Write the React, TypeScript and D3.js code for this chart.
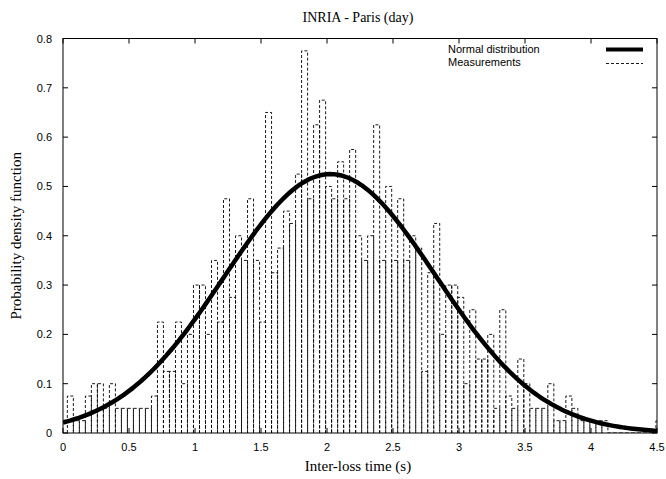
import React from "react";
import * as d3 from "d3";

const W = 666;
const H = 479;
const PL = 63, PR = 657, PT = 38.5, PB = 433;

const xTicks = [0, 0.5, 1, 1.5, 2, 2.5, 3, 3.5, 4, 4.5];
const xTickLabels = ["0", "0.5", "1", "1.5", "2", "2.5", "3", "3.5", "4", "4.5"];
const yTicks = [0, 0.1, 0.2, 0.3, 0.4, 0.5, 0.6, 0.7, 0.8];
const yTickLabels = ["0", "0.1", "0.2", "0.3", "0.4", "0.5", "0.6", "0.7", "0.8"];

// histogram bins (left edge of first bin, bin width) and measured densities
const binStart = 0.033;
const binWidth = 0.0455;
const density = [
  0.075, 0.025, 0.025, 0.075, 0.1, 0.1, 0.05, 0.1, 0.05, 0.05,
  0.05, 0.05, 0.05, 0.05, 0.075, 0.225, 0.125, 0.125, 0.225, 0.1,
  0.2, 0.3, 0.3, 0.2, 0.35, 0.225, 0.475, 0.275, 0.4, 0.35,
  0.475, 0.35, 0.225, 0.65, 0.325, 0.375, 0.45, 0.425, 0.525, 0.775,
  0.475, 0.625, 0.675, 0.5, 0.475, 0.55, 0.475, 0.575, 0.4, 0.35,
  0.4, 0.625, 0.35, 0.5, 0.35, 0.475, 0.35, 0.4, 0.375, 0.125,
  0.325, 0.425, 0.2, 0.3, 0.3, 0.275, 0.1, 0.25, 0.15, 0.15,
  0.2, 0.05, 0.25, 0.075, 0.05, 0.15, 0.1, 0.05, 0.05, 0.05,
  0.1, 0.025, 0.025, 0.075, 0.05, 0.025, 0.025, 0.025, 0.025, 0.025,
  0, 0, 0, 0, 0, 0, 0, 0, 0.025,
];

// fitted normal distribution
const normalMean = 2.025;
const normalSd = 0.8;
const normalPeak = 0.525;

const title = "INRIA - Paris (day)";
const xLabel = "Inter-loss time (s)";
const yLabel = "Probability density function";
const legendNames = ["Normal distribution", "Measurements"];

export default function App() {
  const x = d3.scaleLinear().domain([0, 4.5]).range([PL, PR]);
  const y = d3.scaleLinear().domain([0, 0.8]).range([PB, PT]);

  const curveXs = d3.range(0, 4.5001, 0.02);
  const curveLine = d3
    .line<number>()
    .x((d) => x(d))
    .y((d) => y(normalPeak * Math.exp(-((d - normalMean) ** 2) / (2 * normalSd * normalSd))))
    .curve(d3.curveLinear);

  const sans = "'Liberation Sans', Arial, Helvetica, sans-serif";
  const serif = "'Liberation Serif', 'Times New Roman', serif";
  const tickLen = 5;

  return (
    <div style={{ position: "absolute", left: 0, top: 0, width: W, height: H, background: "#fff" }}>
      <svg width={W} height={H} viewBox={`0 0 ${W} ${H}`} style={{ display: "block" }}>
        <defs>
          <clipPath id="plotClip">
            <rect x={PL} y={PT} width={PR - PL} height={PB - PT} />
          </clipPath>
        </defs>
        <rect x={0} y={0} width={W} height={H} fill="#fff" />

        {/* histogram boxes */}
        <g clipPath="url(#plotClip)">
          {density.map((v, i) => {
            const x0 = x(binStart + i * binWidth);
            const x1 = x(binStart + (i + 1) * binWidth);
            const y0 = y(0);
            const y1 = y(v);
            return (
              <path
                key={i}
                d={`M${x0},${y0}V${y1}H${x1}V${y0}`}
                fill="none"
                stroke="#000"
                strokeWidth={0.9}
                strokeDasharray="3,2"
              />
            );
          })}
          <path
            d={curveLine(curveXs) || ""}
            fill="none"
            stroke="#000"
            strokeWidth={4.5}
            strokeLinejoin="round"
          />
        </g>

        {/* frame */}
        <rect x={PL} y={PT} width={PR - PL} height={PB - PT} fill="none" stroke="#000" strokeWidth={1} />

        {/* ticks */}
        {xTicks.map((t, i) => (
          <g key={"xt" + i}>
            <line x1={x(t)} x2={x(t)} y1={PB} y2={PB - tickLen} stroke="#000" />
            <line x1={x(t)} x2={x(t)} y1={PT} y2={PT + tickLen} stroke="#000" />
            <text
              x={x(t)}
              y={PB + 18}
              textAnchor="middle"
              fontFamily={sans}
              fontSize={11}
              fill="#000"
            >
              {xTickLabels[i]}
            </text>
          </g>
        ))}
        {yTicks.map((t, i) => (
          <g key={"yt" + i}>
            <line x1={PL} x2={PL + tickLen} y1={y(t)} y2={y(t)} stroke="#000" />
            <line x1={PR} x2={PR - tickLen} y1={y(t)} y2={y(t)} stroke="#000" />
            <text
              x={PL - 11}
              y={y(t) + 4}
              textAnchor="end"
              fontFamily={sans}
              fontSize={11}
              fill="#000"
            >
              {yTickLabels[i]}
            </text>
          </g>
        ))}

        {/* title and axis labels */}
        <text x={358} y={22} textAnchor="middle" fontFamily={serif} fontSize={14} fill="#000">
          {title}
        </text>
        <text x={358} y={471} textAnchor="middle" fontFamily={serif} fontSize={15} fill="#000">
          {xLabel}
        </text>
        <text
          transform={`translate(21,${(PT + PB) / 2}) rotate(-90)`}
          textAnchor="middle"
          fontFamily={serif}
          fontSize={15}
          fill="#000"
        >
          {yLabel}
        </text>

        {/* legend */}
        <text x={448} y={53} fontFamily={sans} fontSize={11} fill="#000">
          {legendNames[0]}
        </text>
        <line x1={606} x2={643} y1={49.5} y2={49.5} stroke="#000" strokeWidth={4} />
        <text x={448} y={66} fontFamily={sans} fontSize={11} fill="#000">
          {legendNames[1]}
        </text>
        <line x1={606} x2={643} y1={63.5} y2={63.5} stroke="#000" strokeWidth={0.9} strokeDasharray="3,2" />
      </svg>
    </div>
  );
}
